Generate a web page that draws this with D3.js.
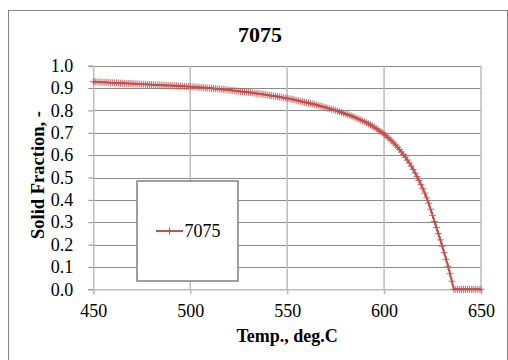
<!DOCTYPE html>
<html>
<head>
<meta charset="utf-8">
<script src="https://cdn.jsdelivr.net/npm/d3@7"></script>
<style>
  html, body { margin: 0; padding: 0; background: #ffffff; }
  svg { display: block; }
  svg text { font-family: 'Liberation Serif', 'Times New Roman', serif; }
</style>
</head>
<body>
<svg id="chart" width="508" height="360"></svg>
<script>
// ---- data ----
const chartTitle = "7075";
const seriesName = "7075";
const xTitle = "Temp., deg.C";
const yTitle = "Solid Fraction, -";
const xTicks = [450, 500, 550, 600, 650];
const yTicks = [0.0, 0.1, 0.2, 0.3, 0.4, 0.5, 0.6, 0.7, 0.8, 0.9, 1.0];

const temps = [
  450,451,452,453,454,455,456,457,458,459,
  460,461,462,463,464,465,466,467,468,469,
  470,471,472,473,474,475,476,477,478,479,
  480,481,482,483,484,485,486,487,488,489,
  490,491,492,493,494,495,496,497,498,499,
  500,501,502,503,504,505,506,507,508,509,
  510,511,512,513,514,515,516,517,518,519,
  520,521,522,523,524,525,526,527,528,529,
  530,531,532,533,534,535,536,537,538,539,
  540,541,542,543,544,545,546,547,548,549,
  550,551,552,553,554,555,556,557,558,559,
  560,561,562,563,564,565,566,567,568,569,
  570,571,572,573,574,575,576,577,578,579,
  580,581,582,583,584,585,586,587,588,589,
  590,591,592,593,594,595,596,597,598,599,
  600,601,602,603,604,605,606,607,608,609,
  610,611,612,613,614,615,616,617,618,619,
  620,621,622,623,624,625,626,627,628,629,
  630,631,632,633,634,635,636,637,638,639,
  640,641,642,643,644,645,646,647,648,649,
  650
];

const solidFraction = [
  0.928,0.928,0.927,0.927,0.926,0.926,0.926,0.925,0.925,0.924,
  0.924,0.923,0.923,0.923,0.922,0.922,0.921,0.921,0.920,0.920,
  0.920,0.919,0.919,0.918,0.918,0.917,0.917,0.917,0.916,0.916,
  0.915,0.915,0.914,0.914,0.914,0.913,0.913,0.912,0.912,0.911,
  0.911,0.911,0.910,0.910,0.909,0.909,0.908,0.908,0.907,0.907,
  0.906,0.906,0.905,0.905,0.904,0.903,0.903,0.902,0.901,0.900,
  0.900,0.899,0.898,0.897,0.897,0.896,0.895,0.894,0.893,0.892,
  0.891,0.890,0.889,0.888,0.887,0.886,0.885,0.884,0.883,0.882,
  0.881,0.880,0.879,0.878,0.876,0.875,0.874,0.873,0.871,0.870,
  0.869,0.867,0.866,0.865,0.863,0.862,0.860,0.859,0.857,0.856,
  0.854,0.852,0.851,0.849,0.847,0.845,0.843,0.841,0.839,0.837,
  0.835,0.833,0.831,0.829,0.827,0.825,0.822,0.820,0.818,0.815,
  0.813,0.810,0.808,0.805,0.803,0.800,0.797,0.794,0.791,0.788,
  0.785,0.782,0.779,0.776,0.772,0.769,0.765,0.761,0.757,0.753,
  0.749,0.745,0.740,0.735,0.730,0.725,0.719,0.713,0.707,0.701,
  0.694,0.687,0.679,0.671,0.663,0.654,0.645,0.635,0.625,0.614,
  0.603,0.591,0.578,0.565,0.551,0.536,0.520,0.504,0.487,0.469,
  0.450,0.430,0.409,0.385,0.358,0.331,0.303,0.276,0.249,0.221,
  0.193,0.164,0.134,0.103,0.070,0.036,0.000,0.000,0.000,0.000,
  0.000,0.000,0.000,0.000,0.000,0.000,0.000,0.000,0.000,0.000,
  0.000
];

const points = temps.map((t, i) => ({ t: t, fs: solidFraction[i] }));

// ---- drawing ----
const svg = d3.select("#chart");
const font = "'Liberation Serif', 'Times New Roman', serif";
const red = "#c0504d";

const x = d3.scaleLinear().domain([450, 650]).range([93.3, 481]);
const y = d3.scaleLinear().domain([0, 1]).range([289.3, 65.7]);

// outer chart border
svg.append("rect")
  .attr("x", 8.5).attr("y", 10.5)
  .attr("width", 499).attr("height", 360)
  .attr("fill", "#fff")
  .attr("stroke", "#868686").attr("stroke-width", 1);

// horizontal gridlines
svg.append("g").selectAll("line").data(yTicks.filter(v => v > 0)).join("line")
  .attr("x1", x(450)).attr("x2", x(650))
  .attr("y1", d => Math.round(y(d)) + 0.5).attr("y2", d => Math.round(y(d)) + 0.5)
  .attr("stroke", "#8c8c8c").attr("stroke-width", 1);

// vertical gridlines
svg.append("g").selectAll("line").data(xTicks.filter(v => v > 450)).join("line")
  .attr("x1", d => x(d)).attr("x2", d => x(d))
  .attr("y1", y(1)).attr("y2", y(0))
  .attr("stroke", "#bdbdbd").attr("stroke-width", 1.5);

// y axis
const yAxis = d3.axisLeft(y).tickValues(yTicks).tickFormat(d3.format(".1f")).tickSize(5).tickPadding(15);
const gy = svg.append("g").attr("transform", `translate(${x(450)},0)`).call(yAxis)
  .attr("font-family", font).attr("font-size", 18);
gy.select(".domain").attr("stroke", "#bdbdbd").attr("stroke-width", 1.5);
gy.selectAll(".tick line").attr("stroke", "#8c8c8c");
gy.selectAll(".tick text").style("font-family", font).style("font-size", "18px").attr("fill", "#000");

// x axis
const xAxis = d3.axisBottom(x).tickValues(xTicks).tickFormat(d3.format("d")).tickSize(5).tickPadding(10);
const gx = svg.append("g").attr("transform", `translate(0,${y(0)})`).call(xAxis)
  .attr("font-family", font).attr("font-size", 18);
gx.select(".domain").attr("stroke", "#bdbdbd").attr("stroke-width", 1.5);
gx.selectAll(".tick line").attr("stroke", "#bdbdbd").attr("stroke-width", 1.5);
gx.selectAll(".tick text").style("font-family", font).style("font-size", "18px").attr("fill", "#000");

// series line
const line = d3.line().x(d => x(d.t)).y(d => y(d.fs));
svg.append("path").datum(points)
  .attr("d", line)
  .attr("fill", "none").attr("stroke", red).attr("stroke-width", 2);

// markers
const plus = "M-3.5,0H3.5M0,-3.5V3.5";
svg.append("g").selectAll("path").data(points).join("path")
  .attr("transform", d => `translate(${x(d.t)},${y(d.fs)})`)
  .attr("d", plus)
  .attr("fill", "none").attr("stroke", red).attr("stroke-width", 1).attr("stroke-opacity", 0.85);

// title
svg.append("text")
  .attr("x", 260).attr("y", 42)
  .attr("text-anchor", "middle")
  .attr("font-family", font).attr("font-size", 22).attr("font-weight", "bold")
  .text(chartTitle);

// x title
svg.append("text")
  .attr("x", (x(450) + x(650)) / 2).attr("y", 342)
  .attr("text-anchor", "middle")
  .attr("font-family", font).attr("font-size", 18).attr("font-weight", "bold")
  .text(xTitle);

// y title
svg.append("text")
  .attr("transform", "translate(44,175) rotate(-90)")
  .attr("text-anchor", "middle")
  .attr("font-family", font).attr("font-size", 18.5).attr("font-weight", "bold")
  .text(yTitle);

// legend
const lg = svg.append("g");
lg.append("rect")
  .attr("x", 137).attr("y", 181)
  .attr("width", 101).attr("height", 100)
  .attr("fill", "#fff").attr("stroke", "#808080").attr("stroke-width", 1.5);
lg.append("line")
  .attr("x1", 156).attr("x2", 183).attr("y1", 231).attr("y2", 231)
  .attr("stroke", red).attr("stroke-width", 2);
lg.append("path")
  .attr("transform", "translate(169.5,231)")
  .attr("d", plus).attr("fill", "none").attr("stroke", red).attr("stroke-width", 1);
lg.append("text")
  .attr("x", 184.5).attr("y", 237)
  .attr("font-family", font).attr("font-size", 18).attr("fill", "#000")
  .text(seriesName);
</script>
</body>
</html>
